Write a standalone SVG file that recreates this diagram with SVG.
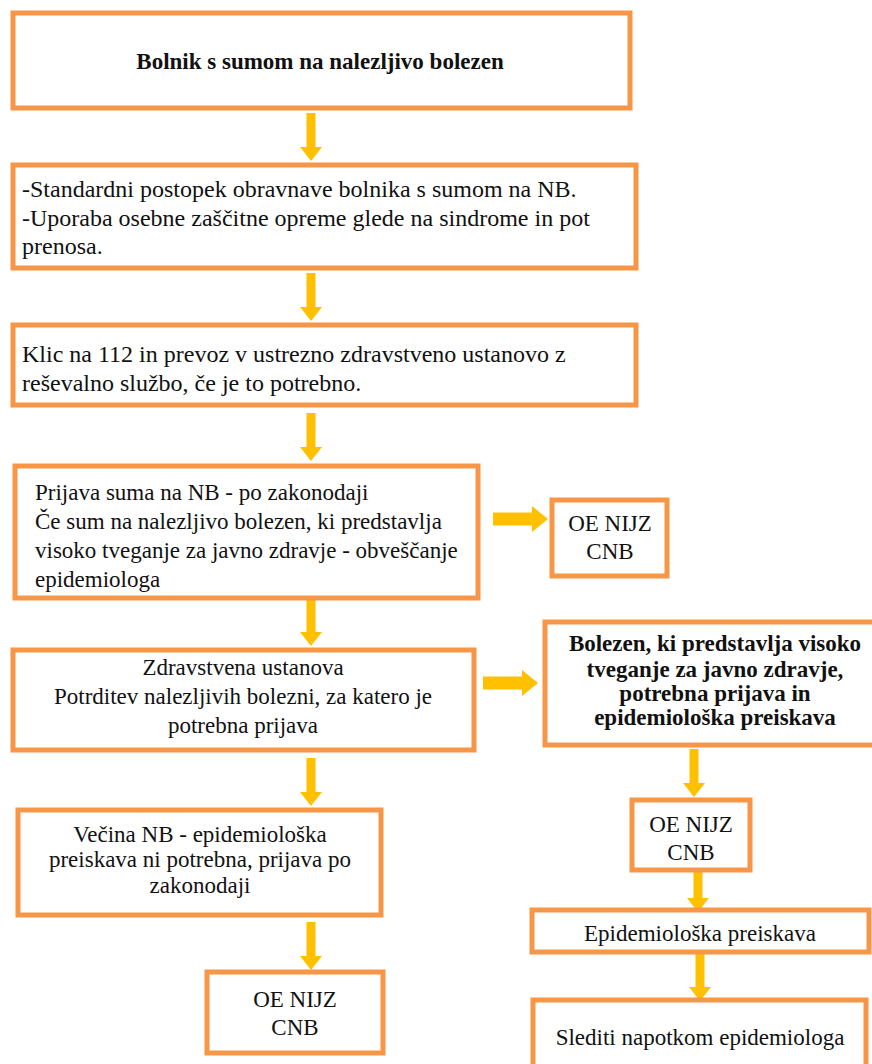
<svg xmlns="http://www.w3.org/2000/svg" width="872" height="1064" viewBox="0 0 872 1064">
  <style>
    .box { fill: #ffffff; stroke: #F79646; stroke-width: 5; }
    .t { font-family: 'Liberation Serif', Tinos, 'Times New Roman', 'DejaVu Serif', serif; font-size: 23px; fill: #111111; }
    .l { font-size: 24px; }
    .c { text-anchor: middle; }
    .b { font-weight: bold; }
    .arrow { fill: #FFC000; }
  </style>
  <defs>
    <!-- vertical arrow pointing down, origin at the tip -->
    <path id="down" d="M-4.5,-48 L4.5,-48 L4.5,-14 L11,-14 L0,0 L-11,-14 L-4.5,-14 Z"/>
    <!-- horizontal arrow pointing right, origin at the tip -->
    <path id="right" d="M-55,-6.5 L-16,-6.5 L-16,-13 L0,0 L-16,13 L-16,6.5 L-55,6.5 Z"/>
  </defs>
  <rect width="872" height="1064" fill="#ffffff"/>

  <g id="connectors" class="arrow">
    <use href="#down" x="311" y="161"/>
    <use href="#down" x="311" y="321"/>
    <use href="#down" x="311" y="461"/>
    <use href="#right" x="548" y="519"/>
    <use href="#down" x="311" y="646"/>
    <use href="#right" x="538" y="683"/>
    <use href="#down" x="311" y="806"/>
    <use href="#down" x="311" y="970"/>
    <use href="#down" x="694" y="797"/>
    <use href="#down" x="698" y="912"/>
    <use href="#down" x="700" y="1001"/>
  </g>

  <g id="n1">
    <rect class="box" x="13" y="13" width="617" height="95"/>
    <text class="t b c" x="320" y="69">Bolnik s sumom na nalezljivo bolezen</text>
  </g>

  <g id="n2">
    <rect class="box" x="13" y="165" width="623" height="103"/>
    <text class="t l" x="22" y="197">-Standardni postopek obravnave bolnika s sumom na NB.</text>
    <text class="t l" x="22" y="226">-Uporaba osebne zaščitne opreme glede na sindrome in pot</text>
    <text class="t l" x="22" y="254">prenosa.</text>
  </g>

  <g id="n3">
    <rect class="box" x="13" y="325" width="623" height="80"/>
    <text class="t l" x="22" y="362">Klic na 112 in prevoz v ustrezno zdravstveno ustanovo z</text>
    <text class="t l" x="22" y="391">reševalno službo, če je to potrebno.</text>
  </g>

  <g id="n4">
    <rect class="box" x="15" y="466" width="463" height="132"/>
    <text class="t" x="35" y="500">Prijava suma na NB - po zakonodaji</text>
    <text class="t" x="35" y="529">Če sum na nalezljivo bolezen, ki predstavlja</text>
    <text class="t" x="35" y="558">visoko tveganje za javno zdravje - obveščanje</text>
    <text class="t" x="35" y="587">epidemiologa</text>
  </g>

  <g id="n5">
    <rect class="box" x="552" y="500" width="115" height="76"/>
    <text class="t c" x="610" y="531">OE NIJZ</text>
    <text class="t c" x="610" y="559">CNB</text>
  </g>

  <g id="n6">
    <rect class="box" x="13" y="650" width="461" height="100"/>
    <text class="t c" x="243" y="675">Zdravstvena ustanova</text>
    <text class="t c" x="243" y="704">Potrditev nalezljivih bolezni, za katero je</text>
    <text class="t c" x="243" y="733">potrebna prijava</text>
  </g>

  <g id="n7">
    <rect class="box" x="545" y="622" width="332" height="123"/>
    <text class="t b c" x="715" y="651">Bolezen, ki predstavlja visoko</text>
    <text class="t b c" x="715" y="677">tveganje za javno zdravje,</text>
    <text class="t b c" x="715" y="701">potrebna prijava in</text>
    <text class="t b c" x="715" y="725">epidemiološka preiskava</text>
  </g>

  <g id="n8">
    <rect class="box" x="18" y="810" width="363" height="105"/>
    <text class="t c" x="200" y="842">Večina NB - epidemiološka</text>
    <text class="t c" x="200" y="867">preiskava ni potrebna, prijava po</text>
    <text class="t c" x="200" y="893">zakonodaji</text>
  </g>

  <g id="n9">
    <rect class="box" x="632" y="800" width="118" height="70"/>
    <text class="t c" x="691" y="832">OE NIJZ</text>
    <text class="t c" x="691" y="860">CNB</text>
  </g>

  <g id="n10">
    <rect class="box" x="532" y="910" width="337" height="42"/>
    <text class="t c" x="700" y="941">Epidemiološka preiskava</text>
  </g>

  <g id="n11">
    <rect class="box" x="207" y="972" width="176" height="81"/>
    <text class="t c" x="295" y="1007">OE NIJZ</text>
    <text class="t c" x="295" y="1035">CNB</text>
  </g>

  <g id="n12">
    <rect class="box" x="533" y="1000" width="333" height="70"/>
    <text class="t c" x="700" y="1045">Slediti napotkom epidemiologa</text>
  </g>
</svg>
